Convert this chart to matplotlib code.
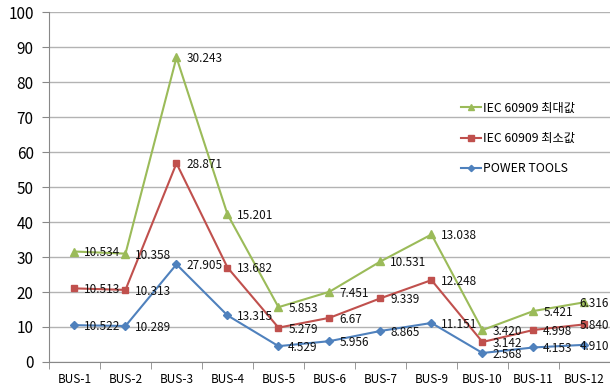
import matplotlib
matplotlib.use("Agg")
import matplotlib.pyplot as plt
import numpy as np

plt.rcParams['font.family'] = ['Noto Sans CJK KR', 'DejaVu Sans']

categories = ["BUS-1", "BUS-2", "BUS-3", "BUS-4", "BUS-5", "BUS-6",
              "BUS-7", "BUS-9", "BUS-10", "BUS-11", "BUS-12"]

# Per-bus values (series are drawn stacked, labels show the individual value)
power_tools = ["10.522", "10.289", "27.905", "13.315", "4.529", "5.956",
               "8.865", "11.151", "2.568", "4.153", "4.910"]
iec_min = ["10.513", "10.313", "28.871", "13.682", "5.279", "6.67",
           "9.339", "12.248", "3.142", "4.998", "5.840"]
iec_max = ["10.534", "10.358", "30.243", "15.201", "5.853", "7.451",
           "10.531", "13.038", "3.420", "5.421", "6.316"]

series = [
    ("POWER TOOLS", power_tools, "#4F81BD", "D", 4),
    ("IEC 60909 최소값", iec_min, "#C0504D", "s", 5),
    ("IEC 60909 최대값", iec_max, "#9BBB59", "^", 5.5),
]

fig = plt.figure(figsize=(6.1, 3.9), dpi=100)
ax = fig.add_axes([0.0803, 0.0718, 0.9197, 0.8974])

x = np.arange(len(categories))
base = np.zeros(len(categories))
handles = {}
last = len(categories) - 1
for name, vals, color, marker, ms in series:
    v = np.array([float(s) for s in vals])
    top = base + v
    ln, = ax.plot(x, top, color=color, lw=1.5, marker=marker, ms=ms,
                  markeredgecolor=color, zorder=3)
    handles[name] = ln
    for i, (xi, yi, s) in enumerate(zip(x, top, vals)):
        # the last column's labels are pulled left so they stay inside
        dx = -3.5 if i == last else 7
        ax.annotate(s, (xi, yi), xytext=(dx, -1), textcoords="offset points",
                    va="center", ha="left", fontsize=8.5, color="#111111",
                    zorder=4, annotation_clip=False)
    base = top

ax.set_xlim(-0.5, len(categories) - 0.5)
ax.set_ylim(0, 100)
ax.set_yticks(np.arange(0, 101, 10))
ax.yaxis.grid(True, color="#b3b3b3", lw=1)
ax.set_axisbelow(True)
ax.set_xticks(x)
ax.set_xticklabels(categories, fontsize=8.5)
ax.set_xticks(np.arange(-0.5, len(categories), 1), minor=True)
ax.tick_params(axis="x", which="major", length=0, pad=8)
ax.tick_params(axis="x", which="minor", length=5, color="#888888")
ax.tick_params(axis="y", length=5, color="#888888", labelsize=11, pad=6)
for side in ("top", "right"):
    ax.spines[side].set_visible(False)
for side in ("left", "bottom"):
    ax.spines[side].set_color("#888888")

order = ["IEC 60909 최대값", "IEC 60909 최소값", "POWER TOOLS"]
leg = ax.legend([handles[n] for n in order], order, frameon=False,
                loc="upper left", bbox_to_anchor=(0.715, 0.775),
                fontsize=8.8, handlelength=1.6, handletextpad=0.2,
                labelspacing=1.4, markerscale=0.8)

fig.savefig("out.png", dpi=100)
